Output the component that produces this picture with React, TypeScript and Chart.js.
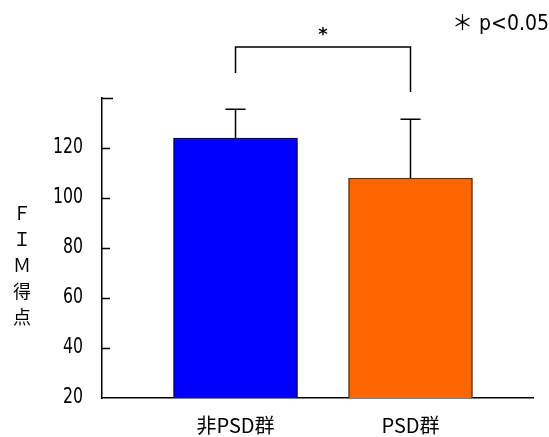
import React, { useEffect, useRef } from "react";
import { Chart, registerables } from "chart.js";

Chart.register(...registerables);

const categories = ["非PSD群", "PSD群"];
const means = [124, 108];
const sds = [11.5, 23.5];
const barColors = ["#0000FF", "#FF6600"];
const barBorders = ["#000066", "#663300"];
const yTicks = [20, 40, 60, 80, 100, 120, 140];
const yTickLabels = ["20", "40", "60", "80", "100", "120", ""];
const yAxisLabelChars = ["Ｆ", "Ｉ", "Ｍ", "得", "点"];
const bracketTop = 160.4;
const bracketLeftEnd = 150;
const bracketRightEnd = 142.4;
const sigMark = "*";
const noteText = "＊ p<0.05";

const overlayPlugin = {
  id: "overlay",
  afterDatasetsDraw(chart: any) {
    const ctx = chart.ctx;
    const x = chart.scales.x;
    const y = chart.scales.y;
    const area = chart.chartArea;
    ctx.save();
    ctx.strokeStyle = "#000";
    ctx.lineWidth = 1.5;
    yTicks.forEach((t) => {
      if (t === 20) return;
      const py = Math.round(y.getPixelForValue(t)) + 0.5;
      ctx.beginPath();
      ctx.moveTo(area.left, py);
      ctx.lineTo(area.left + (t === 140 ? 11 : 8), py);
      ctx.stroke();
    });
    ctx.fillStyle = "#000";
    ctx.textBaseline = "middle";
    ctx.textAlign = "right";
    ctx.font = "21px 'DejaVu Sans'";
    yTicks.forEach((t, i) => {
      const py = y.getPixelForValue(t);
      ctx.save();
      ctx.translate(83, py);
      ctx.scale(0.75, 1);
      ctx.fillText(yTickLabels[i], 0, 0);
      ctx.restore();
    });
    means.forEach((m, i) => {
      const cx = x.getPixelForValue(i);
      const top = y.getPixelForValue(m + sds[i]);
      const base = y.getPixelForValue(m);
      ctx.beginPath();
      ctx.moveTo(cx, base);
      ctx.lineTo(cx, top);
      ctx.moveTo(cx - 10, top);
      ctx.lineTo(cx + 10, top);
      ctx.stroke();
    });
    const x0 = x.getPixelForValue(0);
    const x1 = x.getPixelForValue(1);
    const yt = y.getPixelForValue(bracketTop);
    ctx.beginPath();
    ctx.moveTo(x0, y.getPixelForValue(bracketLeftEnd));
    ctx.lineTo(x0, yt);
    ctx.lineTo(x1, yt);
    ctx.lineTo(x1, y.getPixelForValue(bracketRightEnd));
    ctx.stroke();
    ctx.font = "bold 18px 'DejaVu Sans'";
    ctx.textAlign = "center";
    ctx.fillText(sigMark, (x0 + x1) / 2, yt - 12);
    ctx.font = "21px 'DejaVu Sans Condensed', 'Noto Sans CJK JP'";
    ctx.textAlign = "right";
    ctx.fillText(noteText, 549, 25);
    ctx.font = "18px 'Noto Sans CJK JP'";
    ctx.textAlign = "center";
    yAxisLabelChars.forEach((c, i) => {
      ctx.fillText(c, 22, 213 + i * 26);
    });
    ctx.restore();
  },
};

export default function App() {
  const ref = useRef<HTMLCanvasElement>(null);
  useEffect(() => {
    if (!ref.current) return;
    const chart = new Chart(ref.current, {
      type: "bar",
      data: {
        datasets: [
          {
            data: means.map((v, i) => ({ x: i, y: v })),
            backgroundColor: barColors,
            borderColor: barBorders,
            borderWidth: 1.5,
            barThickness: 124,
          } as any,
        ],
      },
      plugins: [overlayPlugin],
      options: {
        responsive: false,
        animation: false,
        layout: { padding: { top: 98, right: 16, left: 0, bottom: 0 } },
        plugins: { legend: { display: false }, tooltip: { enabled: false } },
        scales: {
          x: {
            type: "linear",
            offset: false,
            bounds: "data",
            min: -0.763,
            max: 1.7,
            grid: { display: false, drawTicks: false, offset: false },
            border: { display: true, color: "#000", width: 1.5 },
            afterBuildTicks: (s: any) => {
              s.ticks = categories.map((_, i) => ({ value: i }));
            },
            afterFit: (s: any) => {
              s.height = 39;
            },
            ticks: {
              autoSkip: false,
              maxRotation: 0,
              padding: 15,
              color: "#000",
              font: { family: "'Noto Sans CJK JP'", size: 20 },
              callback: (v: any) => categories[v] ?? "",
            },
          },
          y: {
            type: "linear",
            min: 20,
            max: 140,
            grid: { display: false, drawTicks: false },
            border: { display: true, color: "#000", width: 1.5 },
            afterBuildTicks: (s: any) => {
              s.ticks = yTicks.map((v) => ({ value: v }));
            },
            afterFit: (s: any) => {
              s.width = 102;
            },
            ticks: {
              padding: 19,
              color: "rgba(0,0,0,0)",
              font: { size: 20 },
              callback: () => "",
            },
          },
        },
      } as any,
    });
    return () => chart.destroy();
  }, []);
  return (
    <div style={{ position: "absolute", left: 0, top: 0, width: 549, height: 437, background: "#fff" }}>
      <canvas ref={ref} width={549} height={437} />
    </div>
  );
}
